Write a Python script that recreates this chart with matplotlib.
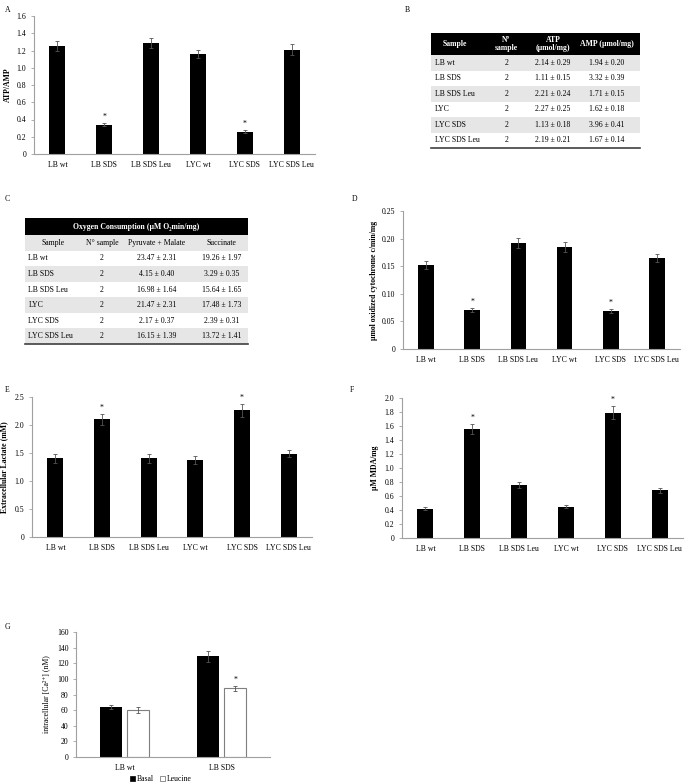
import matplotlib
matplotlib.use("Agg")
import matplotlib.pyplot as plt
from matplotlib.patches import Rectangle, Patch
import numpy as np

plt.rcParams['font.family'] = ['Liberation Serif', 'DejaVu Serif']
plt.rcParams['mathtext.fontset'] = 'stix'

W, H = 685, 783

# ---------------- data ----------------
groups = ["LB wt", "LB SDS", "LB SDS Leu", "LYC wt", "LYC SDS", "LYC SDS Leu"]

atp_amp = [1.25, 0.34, 1.29, 1.16, 0.26, 1.21]
atp_amp_err = [0.06, 0.02, 0.06, 0.05, 0.02, 0.06]
atp_amp_sig = [False, True, False, False, True, False]

cytc = [0.152, 0.071, 0.192, 0.184, 0.069, 0.165]
cytc_err = [0.007, 0.004, 0.009, 0.009, 0.004, 0.008]
cytc_sig = [False, True, False, False, True, False]

lactate = [1.41, 2.10, 1.41, 1.38, 2.26, 1.49]
lactate_err = [0.08, 0.10, 0.08, 0.07, 0.12, 0.07]
lactate_sig = [False, True, False, False, True, False]

mda = [0.42, 1.56, 0.76, 0.45, 1.79, 0.68]
mda_err = [0.02, 0.07, 0.04, 0.02, 0.09, 0.03]
mda_sig = [False, True, False, False, True, False]

ca_groups = ["LB wt", "LB SDS"]
ca_basal = [64, 129]
ca_basal_err = [3, 7]
ca_leucine = [60, 88]
ca_leucine_err = [4, 3]
ca_leucine_sig = [False, True]

tabB_samples = ["LB wt", "LB SDS", "LB SDS Leu", "LYC", "LYC SDS", "LYC SDS Leu"]
tabB_n = ["2", "2", "2", "2", "2", "2"]
tabB_atp = ["2.14 ± 0.29", "1.11 ± 0.15", "2.21 ± 0.24", "2.27 ± 0.25", "1.13 ± 0.18", "2.19 ± 0.21"]
tabB_amp = ["1.94 ± 0.20", "3.32 ± 0.39", "1.71 ± 0.15", "1.62 ± 0.18", "3.96 ± 0.41", "1.67 ± 0.14"]
tabB_header = ["Sample", "Nº\nsample", "ATP\n(µmol/mg)", "AMP (µmol/mg)"]

tabC_title = "Oxygen Consumption (µM O₂min/mg)"
tabC_header = ["Sample", "N° sample", "Pyruvate + Malate", "Succinate"]
tabC_samples = ["LB wt", "LB SDS", "LB SDS Leu", "LYC", "LYC SDS", "LYC SDS Leu"]
tabC_n = ["2", "2", "2", "2", "2", "2"]
tabC_pm = ["23.47 ± 2.31", "4.15 ± 0.40", "16.98 ± 1.64", "21.47 ± 2.31", "2.17 ± 0.37", "16.15 ± 1.39"]
tabC_succ = ["19.26 ± 1.97", "3.29 ± 0.35", "15.64 ± 1.65", "17.48 ± 1.73", "2.39 ± 0.31", "13.72 ± 1.41"]

# ---------------- helpers ----------------
fig = plt.figure(figsize=(W / 100, H / 100), dpi=100)
fig.patch.set_facecolor("white")

FS = 5.6
AXC = "#a0a0a0"


def px_axes(x0, y0, x1, y1):
    return fig.add_axes([x0 / W, 1 - y1 / H, (x1 - x0) / W, (y1 - y0) / H])


def style_axes(ax):
    for s in ["top", "right"]:
        ax.spines[s].set_visible(False)
    for s in ["left", "bottom"]:
        ax.spines[s].set_color(AXC)
        ax.spines[s].set_linewidth(0.8)
    ax.tick_params(axis="y", length=2.5, width=0.6, color=AXC, labelsize=FS, pad=3)
    ax.tick_params(axis="x", length=0, labelsize=FS, pad=5)


def bar_panel(box, vals, errs, sig, ymax, ystep, fmt, ylabel, ylab_x, bold=True):
    ax = px_axes(*box)
    x = np.arange(len(groups))
    ax.bar(x, vals, width=0.34, color="black", zorder=2)
    ax.errorbar(x, vals, yerr=errs, fmt="none", ecolor="#555555", elinewidth=0.6,
                capsize=1.3, capthick=0.6, zorder=3)
    for xi, v, e, s in zip(x, vals, errs, sig):
        if s:
            ax.annotate("*", (xi, v + e), xytext=(0, 1.5), textcoords="offset points",
                        ha="center", va="bottom", fontsize=FS)
    ax.set_xlim(-0.5, len(groups) - 0.5)
    ax.set_ylim(0, ymax)
    ticks = np.round(np.arange(0, ymax + ystep / 2, ystep), 4)
    ax.set_yticks(ticks)
    ax.set_yticklabels(["0"] + [fmt.format(t) for t in ticks[1:]])
    ax.set_xticks(x)
    ax.set_xticklabels(groups)
    style_axes(ax)
    ax.set_ylabel(ylabel, fontsize=FS, fontweight="bold" if bold else "normal")
    ax.yaxis.set_label_coords((ylab_x - box[0]) / (box[2] - box[0]), 0.5)
    return ax


# ---------------- panel A ----------------
bar_panel((34, 16, 315, 154), atp_amp, atp_amp_err, atp_amp_sig, 1.6, 0.2, "{:.1f}",
          "ATP/AMP", 12)
fig.text(5 / W, 1 - 10 / H, "A", fontsize=FS, va="center")

# ---------------- panel D ----------------
bar_panel((403, 211, 680, 349), cytc, cytc_err, cytc_sig, 0.25, 0.05, "{:.2f}",
          "µmol oxidized cytochrome c/min/mg", 378)
fig.text(352 / W, 1 - 199 / H, "D", fontsize=FS, va="center")

# ---------------- panel E ----------------
bar_panel((32, 397, 312, 537), lactate, lactate_err, lactate_sig, 2.5, 0.5, "{:.1f}",
          "Extracellular Lactate (mM)", 8)
fig.text(5 / W, 1 - 390 / H, "E", fontsize=FS, va="center")

# ---------------- panel F ----------------
bar_panel((402, 398, 683, 538), mda, mda_err, mda_sig, 2.0, 0.2, "{:.1f}",
          "µM MDA/mg", 379)
fig.text(350 / W, 1 - 390 / H, "F", fontsize=FS, va="center")

# ---------------- panel G ----------------
boxG = (76, 632, 270, 757)
axG = px_axes(*boxG)
xg = np.arange(len(ca_groups))
off, bw = 0.14, 0.227
b1 = axG.bar(xg - off, ca_basal, width=bw, color="black", zorder=2, label="Basal")
b2 = axG.bar(xg + off, ca_leucine, width=bw, color="white", edgecolor="#7f7f7f",
             linewidth=0.8, zorder=2, label="Leucine")
axG.errorbar(xg - off, ca_basal, yerr=ca_basal_err, fmt="none", ecolor="#555555",
             elinewidth=0.6, capsize=1.3, capthick=0.6, zorder=3)
axG.errorbar(xg + off, ca_leucine, yerr=ca_leucine_err, fmt="none", ecolor="#555555",
             elinewidth=0.6, capsize=1.3, capthick=0.6, zorder=3)
for xi, v, e, s in zip(xg + off, ca_leucine, ca_leucine_err, ca_leucine_sig):
    if s:
        axG.annotate("*", (xi, v + e), xytext=(0, 1.5), textcoords="offset points",
                     ha="center", va="bottom", fontsize=FS)
axG.set_xlim(-0.5, 1.5)
axG.set_ylim(0, 160)
axG.set_yticks(np.arange(0, 161, 20))
axG.set_xticks(xg)
axG.set_xticklabels(ca_groups)
style_axes(axG)
axG.set_ylabel("intracellular [Ca²⁺] (nM)", fontsize=FS)
axG.yaxis.set_label_coords((50 - boxG[0]) / (boxG[2] - boxG[0]), 0.5)
leg = axG.legend(handles=[Patch(facecolor="black", edgecolor="black", linewidth=0.5),
                          Patch(facecolor="white", edgecolor="#7f7f7f", linewidth=0.6)],
                 labels=["Basal", "Leucine"], ncol=2, frameon=False, fontsize=FS,
                 loc="center", bbox_to_anchor=((161 - boxG[0]) / (boxG[2] - boxG[0]),
                                               (boxG[3] - 779) / (boxG[3] - boxG[1])),
                 handlelength=0.6, handleheight=0.6, handletextpad=0.3, columnspacing=0.8,
                 borderaxespad=0)
fig.text(5 / W, 1 - 627 / H, "G", fontsize=FS, va="center")

# ---------------- table B ----------------
boxB = (431, 33, 640, 148)
axB = px_axes(*boxB)
axB.axis("off")
hdrB = 1.42
nB = len(tabB_samples)
totB = hdrB + nB
axB.set_xlim(0, 1)
axB.set_ylim(totB, 0)
axB.add_patch(Rectangle((0, 0), 1, hdrB, facecolor="black", edgecolor="none"))
colsB_center = [0.115, 0.36, 0.584, 0.842]
for cx, txt in zip(colsB_center, tabB_header):
    axB.text(cx, hdrB / 2, txt, ha="center", va="center", color="white",
             fontsize=FS, fontweight="bold", linespacing=1.1)
for i in range(nB):
    y0 = hdrB + i
    if i % 2 == 0:
        axB.add_patch(Rectangle((0, y0), 1, 1, facecolor="#e6e6e6", edgecolor="none"))
    yc = y0 + 0.5
    axB.text(0.02, yc, tabB_samples[i], ha="left", va="center", fontsize=FS)
    axB.text(colsB_center[1], yc, tabB_n[i], ha="center", va="center", fontsize=FS)
    axB.text(colsB_center[2], yc, tabB_atp[i], ha="center", va="center", fontsize=FS)
    axB.text(colsB_center[3], yc, tabB_amp[i], ha="center", va="center", fontsize=FS)
axB.plot([0, 1], [totB, totB], color="#404040", lw=1.2, clip_on=False)
fig.text(405 / W, 1 - 10 / H, "B", fontsize=FS, va="center")

# ---------------- table C ----------------
boxC = (25, 218, 248, 344)
axC = px_axes(*boxC)
axC.axis("off")
titC, hdC = 1.1, 1.0
nC = len(tabC_samples)
totC = titC + hdC + nC
axC.set_xlim(0, 1)
axC.set_ylim(totC, 0)
axC.add_patch(Rectangle((0, 0), 1, titC, facecolor="black", edgecolor="none"))
axC.text(0.5, titC / 2, tabC_title, ha="center", va="center", color="white",
         fontsize=FS, fontweight="bold")
axC.add_patch(Rectangle((0, titC), 1, hdC, facecolor="#e6e6e6", edgecolor="none"))
colsC_center = [0.126, 0.345, 0.59, 0.883]
for cx, txt in zip(colsC_center, tabC_header):
    axC.text(cx, titC + hdC / 2, txt, ha="center", va="center", fontsize=FS)
for i in range(nC):
    y0 = titC + hdC + i
    if i % 2 == 1:
        axC.add_patch(Rectangle((0, y0), 1, 1, facecolor="#e6e6e6", edgecolor="none"))
    yc = y0 + 0.5
    axC.text(0.015, yc, tabC_samples[i], ha="left", va="center", fontsize=FS)
    axC.text(colsC_center[1], yc, tabC_n[i], ha="center", va="center", fontsize=FS)
    axC.text(colsC_center[2], yc, tabC_pm[i], ha="center", va="center", fontsize=FS)
    axC.text(colsC_center[3], yc, tabC_succ[i], ha="center", va="center", fontsize=FS)
axC.plot([0, 1], [totC, totC], color="#404040", lw=1.2, clip_on=False)
fig.text(5 / W, 1 - 199 / H, "C", fontsize=FS, va="center")

fig.savefig("out.png", dpi=100, facecolor="white")
